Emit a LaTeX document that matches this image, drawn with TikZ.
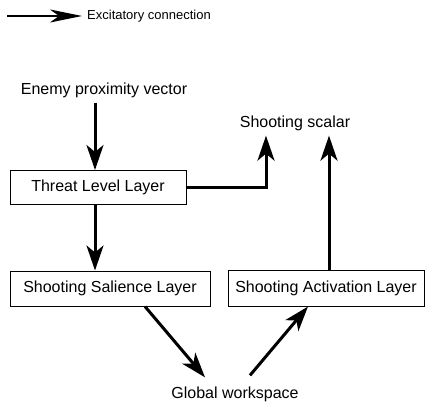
\documentclass[tikz,border=0pt]{standalone}
\usepackage{fontspec}
\setmainfont{Liberation Sans}
\usetikzlibrary{arrows.meta}
\begin{document}
\begin{tikzpicture}[x=1pt,y=-1pt,
  layerbox/.style={draw=black,line width=1pt,inner sep=0pt,font=\fontsize{16}{18}\selectfont},
  lbl/.style={inner sep=0pt,font=\fontsize{16}{18}\selectfont},
  exc/.style={line width=3pt,-{Stealth[length=25pt,width=17pt,inset=7pt]}},
  legarrow/.style={line width=2.2pt,-{Stealth[length=32pt,width=13pt,inset=9pt]}}]
\useasboundingbox (0,0) rectangle (429,404);
% legend
\coordinate (legA) at (7,16);
\node[inner sep=0pt,anchor=west,font=\fontsize{13}{15}\selectfont] (legT) at (87,16) {Excitatory connection};
\draw[legarrow] (legA) -- ([xshift=-5pt]legT.west);
% texts
\node[lbl] (enemy) at (104,90) {Enemy proximity vector};
\node[lbl] (scalar) at (295,123) {Shooting scalar};
\node[lbl] (gw) at (235,394) {Global workspace};
% boxes
\node[layerbox,minimum width=176pt,minimum height=34pt] (thr) at (98,187.5) {Threat Level Layer};
\node[layerbox,minimum width=200pt,minimum height=35pt] (sal) at (110,288.5) {Shooting Salience Layer};
\node[layerbox,minimum width=196pt,minimum height=36pt] (act) at (326,288) {Shooting Activation Layer};
% connectors
\draw[exc] ([xshift=-9pt,yshift=-5pt]enemy.south) -- ([xshift=-3pt]thr.north);
\draw[exc] ([xshift=-3pt]thr.south) -- ([xshift=-15pt]sal.north);
\draw[exc] (thr.east) -| ([xshift=-29pt,yshift=-5pt]scalar.south);
\draw[exc] ([xshift=3pt]act.north) -- ([xshift=34pt,yshift=-5pt]scalar.south);
\draw[exc] ([xshift=35pt]sal.south) -- ([xshift=-30pt,yshift=9pt]gw.north);
\draw[exc] ([xshift=15pt,yshift=11pt]gw.north) -- ([xshift=-18pt]act.south);
\end{tikzpicture}
\end{document}
